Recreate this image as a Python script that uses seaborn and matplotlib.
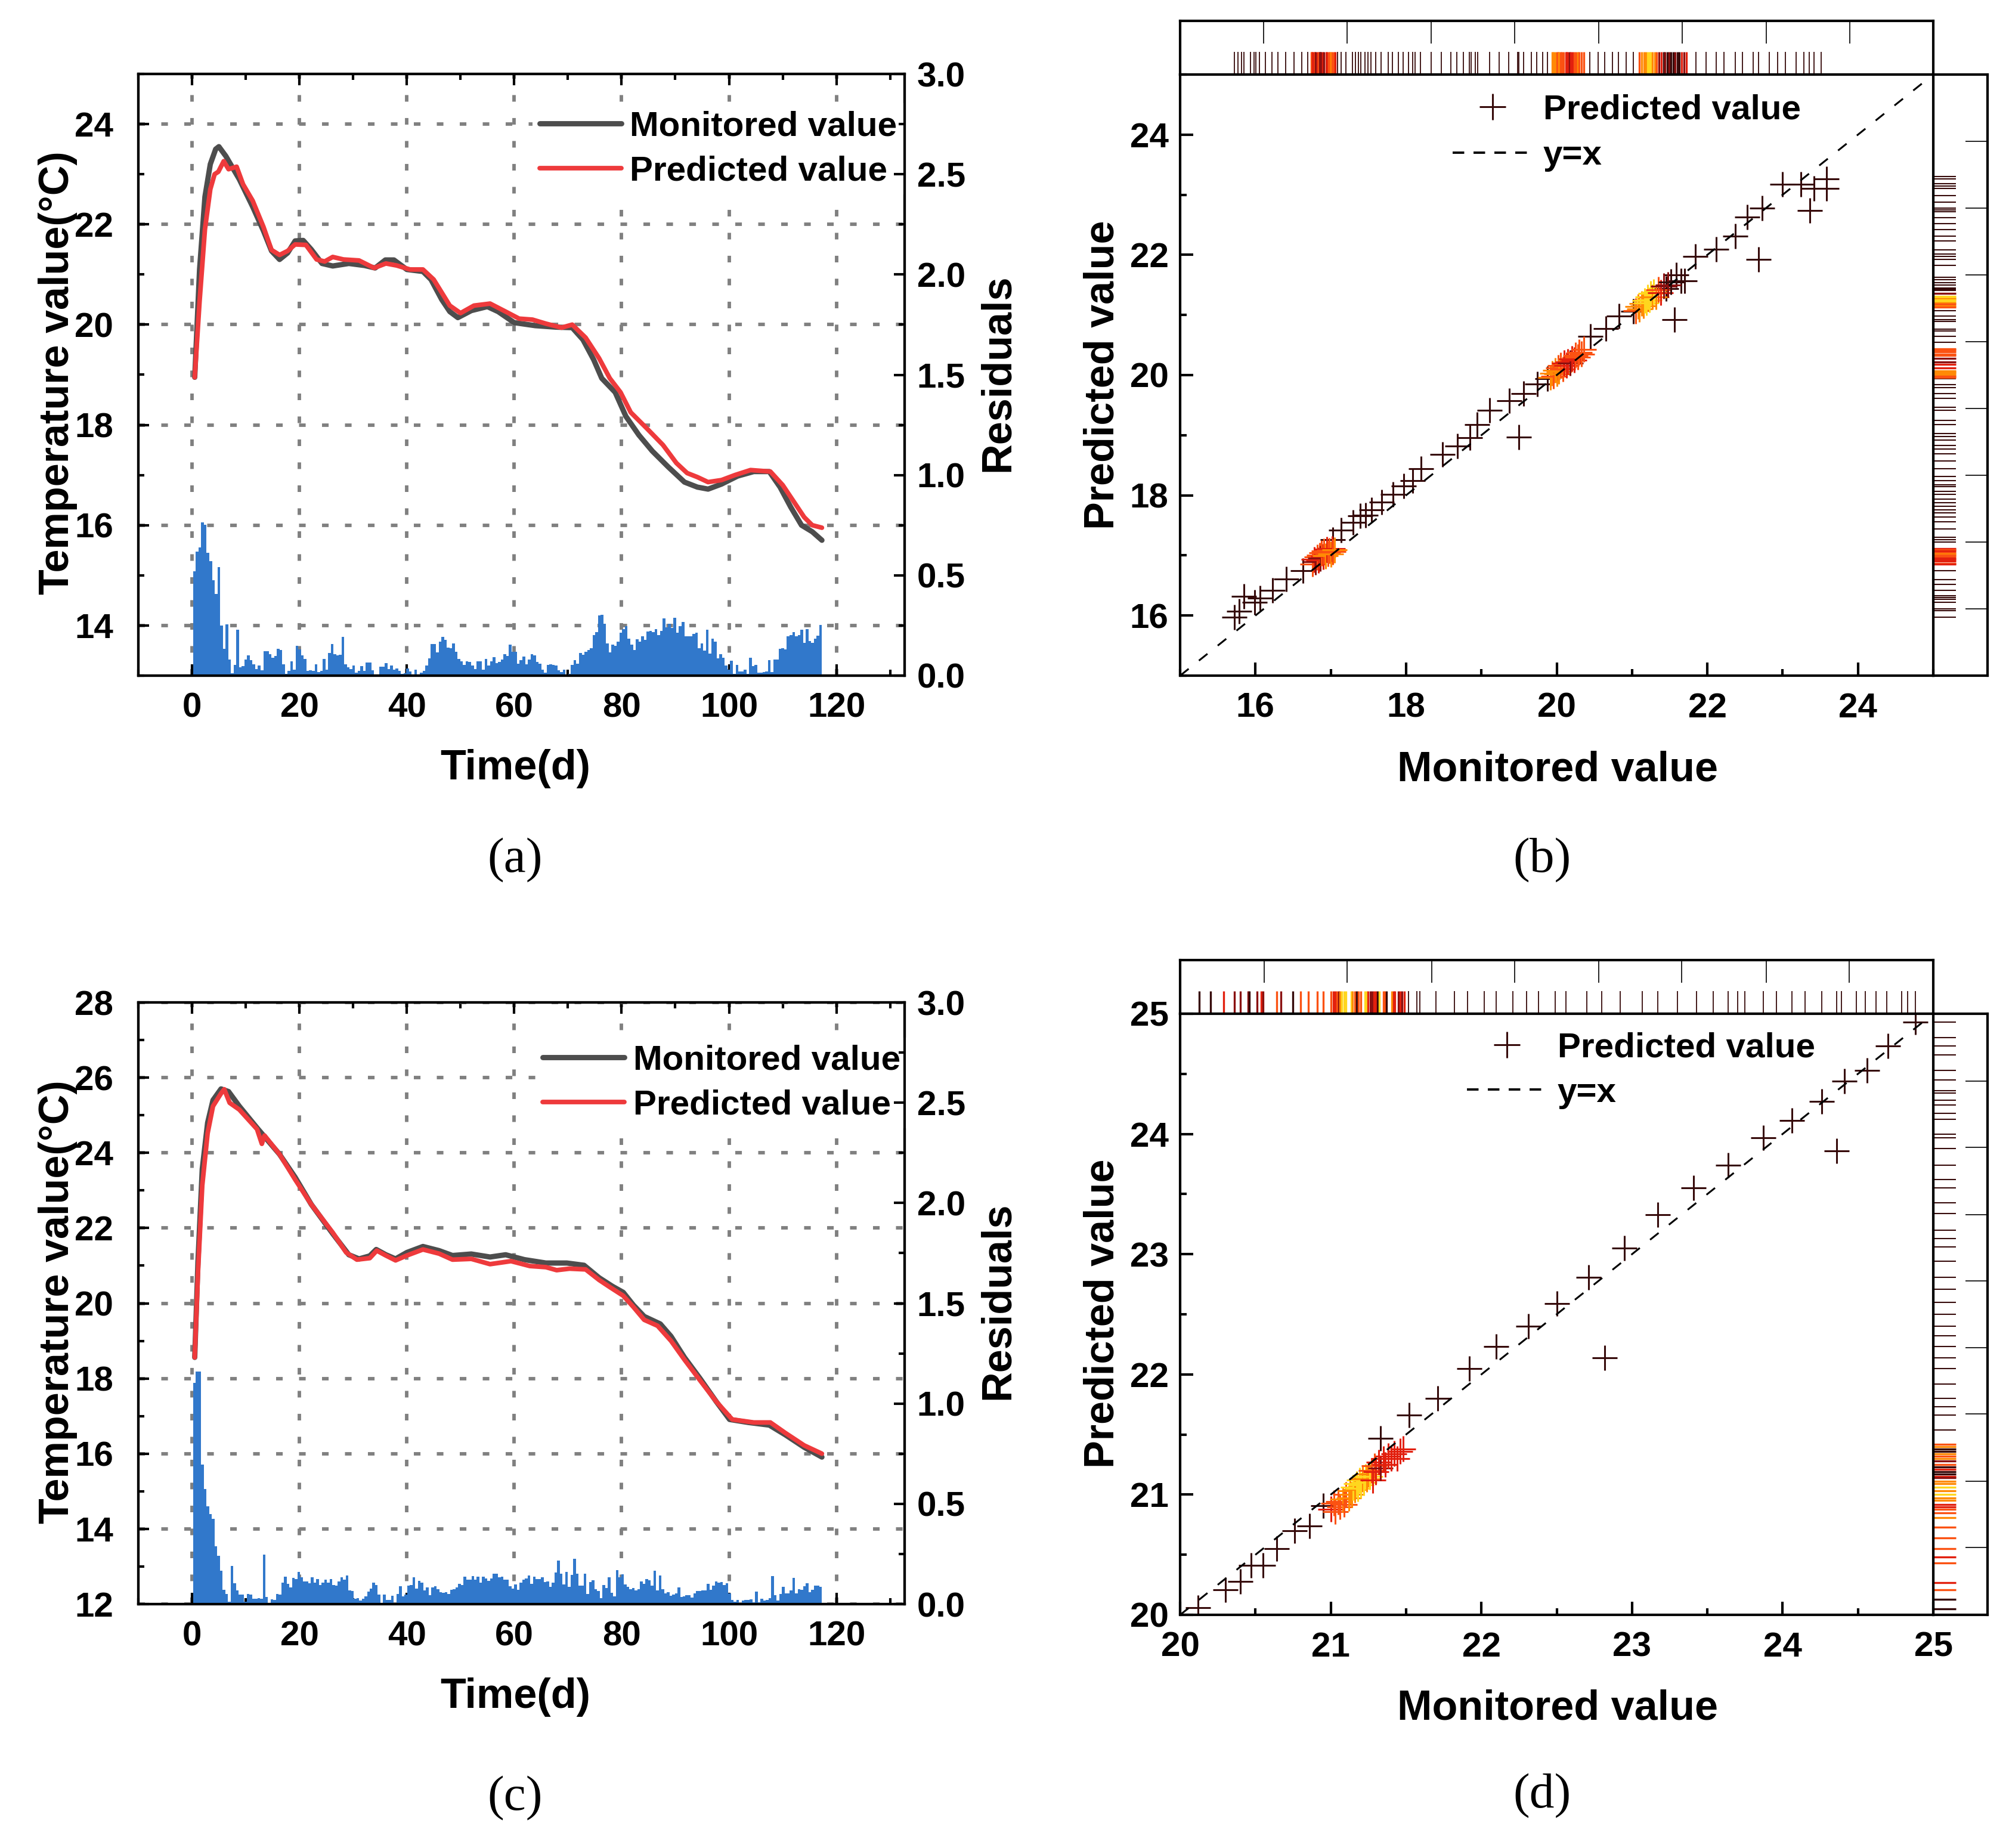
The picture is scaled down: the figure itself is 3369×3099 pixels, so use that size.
import numpy as np
import matplotlib
matplotlib.use('Agg')
import matplotlib.pyplot as plt
from matplotlib.lines import Line2D
from matplotlib.ticker import MultipleLocator
import seaborn as sns

W, H = 3369, 3099

# panel (a) curves
a_mon_t = [0.5,1.4,2.4,3.4,4.4,5,6.3,8.8,11.3,13.3,14.8,16.3,17.8,19.2,20.7,22.2,24.2,26.2,29.2,32.1,34.1,36,37.6,40,43,44.5,46.5,48,49.5,52,55,57,60,63.9,67.8,70.8,72.8,74.8,76.3,78.8,80.8,83.2,85.7,88.7,91.7,94.1,96.1,98.6,101.6,104.6,107.5,109.5,111.5,113.5,115.5,117.3]
a_mon = [18.95,21.1,22.55,23.2,23.5,23.55,23.36,22.9,22.35,21.87,21.47,21.3,21.43,21.67,21.68,21.5,21.22,21.17,21.22,21.18,21.13,21.29,21.29,21.1,21.06,20.9,20.5,20.26,20.14,20.28,20.36,20.26,20.04,19.98,19.95,19.94,19.7,19.3,18.93,18.65,18.17,17.8,17.48,17.16,16.86,16.76,16.72,16.82,16.98,17.07,17.07,16.76,16.36,16.0,15.87,15.7]
a_pred_t = [0.5,1.4,2.4,3.4,4.2,4.9,5.9,6.8,8.3,9.5,11.3,13.3,14.8,16.3,17.8,19.2,21.2,23.2,24.7,26.2,28.2,31.1,33.9,36.1,38.1,40.6,43,45,48,50,52.5,55.5,58.4,60.9,63.4,65.9,68.8,70.8,73.3,75.8,77.8,79.8,81.7,84.7,87.7,90.2,92.2,94.1,96.1,98.6,101.1,104,107.7,110,112,114,115.5,117.3]
a_pred = [18.95,20.46,21.9,22.7,23.0,23.05,23.26,23.1,23.15,22.8,22.47,21.95,21.49,21.39,21.47,21.6,21.59,21.3,21.26,21.35,21.3,21.28,21.13,21.22,21.18,21.1,21.1,20.9,20.38,20.23,20.38,20.42,20.26,20.12,20.1,20.02,19.94,20.0,19.74,19.33,18.93,18.65,18.25,17.93,17.6,17.24,17.04,16.96,16.86,16.9,17.0,17.1,17.07,16.8,16.48,16.16,16.0,15.95]
a_res = [.52,.617,.638,.763,.753,.612,.57,.476,.408,.541,.25,.133,.256,.079,.012,.054,.23,.041,.049,.079,.1,.077,.057,.032,.051,.028,.122,.122,.106,.089,.098,.134,.128,.057,.01,.025,.071,.03,.15,.13,.101,.084,.023,.028,.023,.057,.018,.025,.083,.03,.112,.159,.106,.101,.104,.192,.057,.041,.033,.051,.015,.025,.047,.025,.066,.066,.028,.005,.005,.044,.046,.062,.034,.05,.03,.036,.025,.01,.012,.036,.022,.007,.03,.0,.015,.023,.051,.086,.159,.157,.115,.169,.192,.177,.14,.136,.162,.118,.083,.072,.054,.071,.067,.051,.034,.071,.071,.03,.083,.052,.071,.092,.062,.067,.081,.106,.098,.155,.118,
         .118,.059,.078,.096,.056,.08,.108,.1,.068,.059,.031,.014,.053,.056,.053,.05,.026,.017,.031,.005,.01,.055,.078,.059,.114,.104,.119,.127,.138,.201,.218,.301,.303,.259,.162,.117,.155,.15,.169,.214,.231,.247,.184,.156,.129,.181,.17,.197,.178,.22,.223,.218,.232,.203,.222,.284,.241,.259,.237,.288,.213,.247,.268,.197,.197,.197,.208,.215,.136,.162,.126,.228,.109,.185,.168,.085,.106,.088,.05,.031,.073,.01,.053,.021,.021,.031,.01,.09,.047,.053,.015,.015,.017,.02,.078,.018,.081,.079,.134,.137,.13,.195,.201,.218,.197,.202,.228,.165,.232,.171,.165,.185,.2,.252]

# panel (c) curves
c_mon_t = [0.5,1.1,1.9,2.9,3.9,5.4,6.8,8.8,12.3,16.3,19.2,22.2,26.2,29.2,31.1,33.1,34.3,36.1,37.9,40,43,46,48.5,52,55.5,58.4,61.9,65.9,69.8,73,75.8,78.3,80.3,82.2,84.2,87.2,89.2,91.7,94.6,97.6,100.1,103.6,107.5,110.5,114,117.3]
c_mon = [18.56,21.1,23.57,24.8,25.4,25.7,25.63,25.24,24.63,23.96,23.35,22.63,21.85,21.29,21.18,21.26,21.43,21.29,21.18,21.35,21.51,21.4,21.27,21.31,21.23,21.29,21.16,21.07,21.07,21.01,20.68,20.45,20.29,19.95,19.65,19.45,19.12,18.56,18.0,17.39,16.91,16.83,16.76,16.5,16.17,15.91]
c_pred_t = [0.5,1.1,1.9,2.9,3.9,5.4,6,7,8.8,12.1,13,13.5,16.3,19.2,22.2,26.2,28.7,30.7,33.1,34.4,36.1,37.9,40,43,46,48.5,52,55.5,59.4,62.9,65.9,67.9,70.3,73.3,75.8,77.8,80.3,82.2,84.2,86.7,89.2,91.7,94.6,97.6,100.6,104.6,107.7,110.5,114,117.3]
c_pred = [18.56,20.8,23.13,24.52,25.24,25.58,25.69,25.33,25.15,24.63,24.24,24.46,23.96,23.29,22.63,21.88,21.35,21.16,21.2,21.4,21.27,21.14,21.27,21.43,21.32,21.16,21.18,21.04,21.12,20.99,20.96,20.88,20.92,20.9,20.62,20.43,20.2,19.9,19.56,19.4,19.0,18.5,17.95,17.39,16.91,16.83,16.83,16.55,16.22,16.0]
c_res = [1.102,1.16,1.16,.695,.574,.488,.449,.426,.288,.241,.167,.072,.052,.013,.19,.104,.067,.049,.049,.013,.051,.049,.028,.028,.031,.028,.246,.037,.006,.025,.02,.051,.049,.106,.136,.101,.082,.131,.124,.16,.133,.113,.113,.104,.134,.106,.126,.096,.106,.122,.108,.126,.096,.092,.114,.133,.121,.143,.069,.064,.026,.031,.018,.026,.039,.062,.077,.106,.096,.049,.006,.047,.02,.02,.042,.006,.051,.09,.039,.047,.092,.094,.134,.077,.116,.106,.067,.084,.045,.084,.09,.074,.06,.057,.06,.051,.071,.073,.084,.101,.096,.138,.121,.123,.141,.121,.138,.106,.138,.128,.116,.129,.152,.153,.134,.138,.121,.121,.09,.077,
         .097,.072,.106,.121,.127,.144,.1,.137,.125,.125,.135,.109,.114,.087,.106,.158,.218,.153,.099,.162,.085,.146,.227,.153,.091,.091,.152,.051,.11,.118,.075,.064,.029,.096,.079,.135,.057,.038,.17,.135,.149,.097,.085,.075,.079,.069,.075,.113,.102,.124,.118,.091,.167,.069,.143,.075,.054,.058,.043,.047,.054,.084,.035,.04,.044,.044,.032,.054,.066,.066,.069,.069,.102,.072,.091,.113,.107,.111,.094,.103,.054,.022,.011,.02,.004,.017,.02,.02,.023,.01,.063,.008,.028,.018,.022,.029,.14,.044,.018,.05,.085,.053,.053,.067,.13,.055,.073,.07,.09,.103,.06,.07,.091,.091,.085]

# panel (b) scatter: points outside the dense clusters
b_x = [15.72,15.78,15.85,15.99,16.06,16.23,16.41,16.63,17.03,17.14,17.3,17.39,17.46,17.54,17.68,17.83,17.97,18.09,18.2,18.48,18.68,18.85,18.94,19.11,19.37,19.56,19.74,19.88,19.5,20.45,20.65,20.83,21.02,21.56,21.45,21.59,21.65,21.7,21.84,22.12,22.37,22.53,22.73,22.68,23.0,23.24,23.36,23.42,23.58,23.58]
b_y = [15.97,16.07,16.32,16.22,16.29,16.42,16.61,16.75,17.26,17.42,17.55,17.66,17.67,17.76,17.89,18.02,18.15,18.24,18.44,18.68,18.82,18.96,19.18,19.41,19.57,19.69,19.85,19.94,18.97,20.64,20.77,20.98,21.06,20.92,21.44,21.67,21.57,21.57,21.97,22.09,22.31,22.63,22.78,21.92,23.17,23.17,22.74,23.11,23.26,23.11]
# dense clusters with a colour level
b_hot_x = [16.76,16.78,16.80,16.82,16.84,16.85,16.86,16.88,16.90,16.91,16.93,16.95,16.96,16.98,17.0,17.02,17.03,17.05,
           19.92,19.94,19.96,19.98,20.0,20.02,20.03,20.05,20.08,20.1,20.13,20.15,20.18,20.2,20.23,20.25,20.28,20.3,20.33,20.36,
           21.05,21.08,21.1,21.13,21.15,21.17,21.19,21.21,21.23,21.25,21.27,21.29,21.32,21.35,21.38,21.42,21.48,21.52]
b_hot_y = [16.86,16.93,16.89,16.97,16.92,17.0,16.95,17.04,16.98,17.07,16.99,17.1,17.03,17.08,17.02,17.11,17.06,17.09,
           19.96,20.03,19.98,20.08,20.02,20.12,20.06,20.16,20.1,20.2,20.16,20.22,20.2,20.27,20.25,20.33,20.3,20.38,20.35,20.43,
           21.07,21.14,21.1,21.19,21.15,21.24,21.2,21.3,21.25,21.36,21.3,21.38,21.3,21.42,21.37,21.48,21.5,21.55]
b_hot_level = [3,2,1,3,2,3,1,3,2,3,4,2,3,3,4,2,3,4,
               4,4,3,4,4,3,4,3,3,2,2,2,1,2,2,3,3,3,3,3,
               3,4,4,4,4,5,5,5,5,5,4,5,4,3,2,1,1,0]
# rugs of (b)
b_top_dark = [15.717,15.77,15.816,15.848,15.933,15.982,16.003,16.053,16.134,16.222,16.3,16.399,16.509,16.618,16.693,17.088,17.134,17.205,17.286,17.329,17.371,17.4,17.456,17.495,17.537,17.6,17.668,17.76,17.817,17.894,17.962,18.032,18.085,18.121,18.191,18.333,18.467,18.598,18.672,18.761,18.842,18.863,18.92,18.951,19.107,19.238,19.361,19.482,19.496,19.56,19.665,19.736,19.81,19.88,20.443,20.553,20.641,20.74,20.82,20.92,21.02,21.85,21.98,22.12,22.22,22.37,22.47,22.61,22.68,22.82,22.93,23.04,23.18,23.28,23.35,23.42,23.51]
b_top_hot = [16.74,16.75,16.76,16.78,16.79,16.80,16.82,16.84,16.85,16.86,16.87,16.89,16.91,16.94,16.95,16.97,16.99,17.0,17.02,17.04,17.06,
             19.94,19.96,19.98,20.0,20.02,20.03,20.05,20.07,20.09,20.12,20.13,20.15,20.17,20.19,20.21,20.23,20.26,20.28,20.3,20.33,20.36,
             21.1,21.13,21.16,21.18,21.21,21.23,21.25,21.27,21.3,21.33,21.36,21.39,21.42,21.44,21.47,21.49,21.52,21.55,21.57,21.6,21.63,21.66,21.69,21.72]
b_top_level = [3,3,2,2,3,1,2,3,1,1,1,2,1,2,2,3,3,4,3,3,2,
               4,4,4,3,3,4,3,3,3,2,2,2,1,2,2,3,3,4,3,3,3,
               3,4,4,4,5,5,5,4,4,3,1,2,0,1,0,1,0,0,1,0,0,2,1,2]
b_right_dark = [23.3,23.26,23.18,23.14,23.11,22.99,22.88,22.78,22.75,22.72,22.62,22.52,22.42,22.31,22.23,22.08,22.01,21.97,21.92,21.83,21.63,21.59,21.54,21.5,21.45,21.43,21.41,21.07,20.98,20.92,20.896,20.76,20.73,20.64,20.55,19.94,19.84,19.79,19.69,19.61,19.46,19.41,19.25,19.18,19.03,18.98,18.92,18.83,18.77,18.69,18.57,18.44,18.31,18.24,18.17,18.14,18.07,18.02,17.94,17.88,17.82,17.76,17.71,17.64,17.56,17.44,17.3,17.26,17.22,16.75,16.6,16.52,16.42,16.33,16.3,16.27,16.22,16.11,16.08,15.97]
b_right_hot = [21.36,21.31,21.29,21.27,21.25,21.23,21.2,21.18,21.15,21.13,
               20.44,20.42,20.39,20.35,20.33,20.28,20.22,20.18,20.12,20.07,20.05,20.03,20.0,19.98,19.96,
               17.11,17.09,17.07,17.04,17.02,17.0,16.98,16.95,16.93,16.9,16.87,16.86]
b_right_level = [1,5,5,4,5,5,4,3,4,3,
                 3,3,3,3,3,1,1,2,2,4,4,4,4,3,3,
                 2,3,2,3,4,3,3,2,2,2,3,2]

# panel (d) scatter
d_x = [20.12,20.3,20.4,20.47,20.55,20.64,20.76,20.86,20.95,21.33,21.52,21.71,21.92,22.1,22.31,22.5,22.71,22.95,23.17,23.41,23.64,23.87,24.06,24.26,24.41,24.56,24.7,24.88,24.36,22.82]
d_y = [20.06,20.21,20.28,20.41,20.41,20.55,20.7,20.74,20.91,21.47,21.66,21.8,22.05,22.23,22.4,22.59,22.81,23.05,23.33,23.55,23.74,23.97,24.11,24.27,24.44,24.53,24.73,24.93,23.86,22.14]
d_hot_x = [21.0,21.02,21.03,21.05,21.06,21.08,21.09,21.1,21.12,21.13,21.14,21.15,21.16,21.17,21.18,21.19,21.2,21.21,21.22,21.23,21.24,21.25,21.26,21.27,21.28,21.29,21.3,21.32,21.33,21.35,21.36,21.38,21.4,21.42,21.44,21.46,21.48]
d_hot_y = [20.88,20.93,20.86,20.94,20.9,20.96,20.92,21.0,20.97,21.03,21.0,21.06,21.04,21.09,21.05,21.12,21.08,21.13,21.1,21.15,21.13,21.17,21.15,21.2,21.12,21.24,21.19,21.27,21.22,21.3,21.25,21.32,21.3,21.34,21.3,21.36,21.38]
d_hot_level = [2,3,3,3,3,4,3,3,4,4,4,5,4,5,5,5,5,4,5,5,4,4,5,3,2,3,2,2,1,2,2,2,2,2,2,2,2]
d_top_dark = [21.515,21.57,21.59,21.7,21.82,21.91,22.02,22.1,22.21,22.3,22.38,22.49,22.56,22.7,22.8,22.92,23.07,23.17,23.3,23.43,23.54,23.64,23.7,23.75,23.87,23.96,24.06,24.15,24.26,24.36,24.39,24.49,24.55,24.62,24.69,24.79,24.83,24.88]
d_top_hot = [20.127,20.2,20.29,20.36,20.4,20.45,20.46,20.51,20.54,20.55,20.64,20.67,20.75,20.8,20.85,20.91,20.95,
             21.003,21.017,21.03,21.04,21.053,21.062,21.074,21.088,21.1,21.136,21.145,21.159,21.171,21.185,21.198,21.226,21.238,21.247,21.261,21.274,21.286,21.297,21.309,21.321,21.35,21.358,21.371,21.406,21.418,21.427,21.447,21.459,21.473,21.487]
d_top_level = [0,0,2,1,1,1,0,1,2,1,3,1,0,3,3,3,3,
               3,2,2,3,1,4,5,5,5,5,4,3,0,3,3,5,5,2,1,1,2,2,0,5,3,3,0,4,2,2,1,2,1,2]
d_right_dark = [24.93,24.8,24.73,24.66,24.53,24.45,24.36,24.34,24.28,24.24,24.17,24.12,24.0,23.97,23.88,23.74,23.62,23.55,23.43,23.34,23.2,23.13,23.06,22.94,22.81,22.71,22.6,22.5,22.4,22.32,22.23,22.14,22.05,21.92,21.8,21.73,21.66,21.54]
d_right_hot = [21.42,21.4,21.38,21.36,21.34,21.32,21.3,21.28,21.25,21.23,21.21,21.19,21.17,21.15,21.14,21.11,21.09,21.06,21.03,21.0,20.97,20.95,20.92,20.9,20.88,20.85,20.81,20.73,20.64,20.55,20.48,20.43,20.27,20.21,20.13,20.05]
d_right_level = [3,4,0,0,4,3,4,1,3,0,2,0,0,2,1,4,4,5,4,5,4,4,2,2,3,3,4,3,3,3,2,3,2,3,0,0]

b_margin_ticks = [16.11,17.22,18.33,19.44,20.56,21.67,22.78,23.89]
d_margin_ticks = [20.56,21.11,21.67,22.22,22.78,23.33,23.89,24.44]

heat = {0:'#360a0a', 1:'#8a1010', 2:'#e2200e', 3:'#fb5212', 4:'#ff8a05', 5:'#ffd61e'}
blue = '#3178cb'
grey_line = '#4d4d4d'
red_line = '#ee3a3c'

sns.set_theme(style='ticks', rc={'axes.linewidth':3, 'axes.edgecolor':'black', 'axes.labelweight':'bold',
                                 'font.weight':'bold', 'text.color':'black', 'xtick.color':'black', 'ytick.color':'black',
                                 'axes.labelcolor':'black'})
plt.rcParams['font.family'] = ['Liberation Sans', 'DejaVu Sans']

fig = plt.figure(figsize=(W/100, H/100), dpi=100, facecolor='white')


def box(l, t, r, b):
    return [l/W, 1-b/H, (r-l)/W, (b-t)/H]


def place_labels(ax, xpos, ypos, fs=50.5):
    # axis label centres given in figure pixels
    bb = ax.get_position()
    ax.xaxis.set_label_coords((xpos[0]/W-bb.x0)/bb.width, ((1-xpos[1]/H)-bb.y0)/bb.height)
    ax.yaxis.set_label_coords((ypos[0]/W-bb.x0)/bb.width, ((1-ypos[1]/H)-bb.y0)/bb.height)
    ax.xaxis.label.set(fontsize=fs, va='center', ha='center')
    ax.yaxis.label.set(fontsize=fs, va='center', ha='center')


def series_panel(pos, mon_t, mon, pred_t, pred, res, ylim, ylab_y, res_lab_y, leg_anchor):
    ax = fig.add_axes(box(*pos))
    ax2 = ax.twinx()
    days = 0.2 + (117.1/len(res))*(np.arange(len(res))+0.5)
    sns.barplot(x=days, y=res, native_scale=True, color=blue, saturation=1, width=1, gap=0, errorbar=None, linewidth=0, ax=ax2)
    sns.lineplot(x=mon_t, y=mon, color=grey_line, linewidth=6.4, label='Monitored value', solid_capstyle='round', ax=ax)
    sns.lineplot(x=pred_t, y=pred, color=red_line, linewidth=5.6, label='Predicted value', solid_capstyle='round', ax=ax)
    ax.set_xlim(-10, 132.7)
    ax2.set_xlim(-10, 132.7)
    ax.set_ylim(*ylim)
    ax2.set_ylim(0, 3)
    ax.xaxis.set_major_locator(MultipleLocator(20))
    ax.xaxis.set_minor_locator(MultipleLocator(10))
    ax.yaxis.set_major_locator(MultipleLocator(2))
    ax.yaxis.set_minor_locator(MultipleLocator(1))
    ax2.yaxis.set_major_locator(MultipleLocator(0.5))
    ax2.yaxis.set_minor_locator(MultipleLocator(0.25))
    ax.grid(True, which='major', color='#808080', lw=4.2, ls=(0, (1.9, 4.7)))
    ax.set_axisbelow(True)
    ax.tick_params(axis='x', which='major', direction='in', top=True, length=14, width=3, pad=20, labelsize=42)
    ax.tick_params(axis='x', which='minor', direction='in', top=True, length=7, width=3)
    ax.tick_params(axis='y', which='major', direction='in', length=13, width=3, pad=30, labelsize=42)
    ax.tick_params(axis='y', which='minor', direction='in', length=7, width=3)
    ax2.tick_params(axis='y', which='major', direction='in', length=13, width=3, pad=15, labelsize=42)
    ax2.tick_params(axis='y', which='minor', direction='in', length=7, width=3)
    ax2.set_xlabel('')
    ax.set_xlabel('Time(d)')
    ax.set_ylabel('Temperature value(°C)')
    ax2.set_ylabel('Residuals')
    place_labels(ax, (864, pos[3]+156), (97, ylab_y))
    bb = ax2.get_position()
    ax2.yaxis.set_label_coords((1674/W-bb.x0)/bb.width, ((1-res_lab_y/H)-bb.y0)/bb.height)
    ax2.yaxis.label.set(fontsize=50.5, va='center', ha='center')
    leg = ax.legend(loc='upper left', bbox_to_anchor=leg_anchor, fontsize=42, frameon=True, fancybox=False, framealpha=1,
                    facecolor='white', edgecolor='none', handlelength=2.35, handletextpad=0.25, labelspacing=0.37, borderpad=0.2, borderaxespad=0)
    leg.set_zorder(5)
    return ax, ax2


def scatter_panel(pos, lim, x, y, hot_x, hot_y, hot_level, top_dark, top_hot, top_level, right_dark, right_hot, right_level, margin_ticks, leg_anchor, spacing):
    l, t, r, b = pos
    top = fig.add_axes(box(l, t-90, r, t))
    right = fig.add_axes(box(r, t, r+91, b))
    ax = fig.add_axes(box(l, t, r, b))
    sns.lineplot(x=lim, y=lim, color='black', linewidth=2.2, ls=(0, (6, 7.2)), ax=ax)
    sns.scatterplot(x=x, y=y, color=heat[0], marker='+', s=950, linewidth=2.2, ax=ax)
    sns.scatterplot(x=hot_x, y=hot_y, hue=hot_level, palette=heat, marker='+', s=950, linewidth=2.2, legend=False, ax=ax)
    ax.set_xlim(*lim)
    ax.set_ylim(*lim)
    step = 1 if lim[1]-lim[0] == 5 else 2
    ax.xaxis.set_major_locator(MultipleLocator(step))
    ax.xaxis.set_minor_locator(MultipleLocator(step/2))
    ax.yaxis.set_major_locator(MultipleLocator(step))
    ax.yaxis.set_minor_locator(MultipleLocator(step/2))
    ax.tick_params(axis='both', which='major', direction='in', length=16, width=3, labelsize=42)
    ax.tick_params(axis='both', which='minor', direction='in', length=8, width=3)
    ax.tick_params(axis='x', which='major', pad=20)
    ax.tick_params(axis='y', which='major', pad=14)
    ax.set_xlabel('Monitored value')
    ax.set_ylabel('Predicted value')
    handles = [Line2D([], [], color=heat[0], marker='+', ms=31, mew=2.2, ls='none'),
               Line2D([], [], color='black', lw=2.8, ls=(0, (5, 4)))]
    ax.legend(handles, ['Predicted value', 'y=x'], loc='upper left', bbox_to_anchor=leg_anchor, fontsize=42, frameon=False,
              handlelength=2.3, handletextpad=0.3, labelspacing=spacing, borderpad=0, borderaxespad=0)

    # marginal strips
    sns.rugplot(x=top_dark, color=heat[0], height=0.42, linewidth=1.3, alpha=1, ax=top)
    sns.rugplot(x=top_hot, hue=top_level, palette=heat, height=0.42, linewidth=2.4, alpha=1, legend=False, ax=top)
    top.set_xlim(*lim)
    top.set_ylim(0, 1)
    top.set_xticks(margin_ticks)
    top.set_yticks([])
    top.tick_params(axis='x', direction='in', bottom=False, top=True, labelbottom=False, length=27, width=1.2)
    sns.rugplot(y=right_dark, color=heat[0], height=0.42, linewidth=1.5, alpha=1, ax=right)
    sns.rugplot(y=right_hot, hue=right_level, palette=heat, height=0.42, linewidth=2.4, alpha=1, legend=False, ax=right)
    right.set_ylim(*lim)
    right.set_xlim(0, 1)
    right.set_yticks(margin_ticks)
    right.set_xticks([])
    right.tick_params(axis='y', direction='in', left=False, right=True, labelleft=False, length=27, width=1.2)
    return ax


# time series panels
series_panel((232, 124, 1517, 1133), a_mon_t, a_mon, a_pred_t, a_pred, a_res, (13, 25), 625, 625, (0.5145, 0.951))
series_panel((232, 1681, 1517, 2690), c_mon_t, c_mon, c_pred_t, c_pred, c_res, (12, 28), 2183, 2181, (0.5185, 0.942))

# scatter panels with marginal rugs
ax_b = scatter_panel((1979, 125, 3242, 1133), [15, 25], b_x, b_y, b_hot_x, b_hot_y, b_hot_level,
                     b_top_dark, b_top_hot, b_top_level, b_right_dark, b_right_hot, b_right_level, b_margin_ticks, (0.362, 0.968), 0.39)
place_labels(ax_b, (2612, 1291), (1849, 629))
ax_d = scatter_panel((1979, 1700, 3242, 2708), [20, 25], d_x, d_y, d_hot_x, d_hot_y, d_hot_level,
                     d_top_dark, d_top_hot, d_top_level, d_right_dark, d_right_hot, d_right_level, d_margin_ticks, (0.381, 0.97), 0.37)
place_labels(ax_d, (2612, 2866), (1849, 2203))

# sub-figure captions
for txt, cx, cy in [('(a)', 864, 1443), ('(b)', 2586, 1443), ('(c)', 864, 3016), ('(d)', 2586, 3012)]:
    fig.text(cx/W, 1-cy/H, txt, family=['Liberation Serif'], weight='normal', fontsize=60, ha='center', va='center')

fig.savefig('out.png', dpi=100, facecolor='white')
